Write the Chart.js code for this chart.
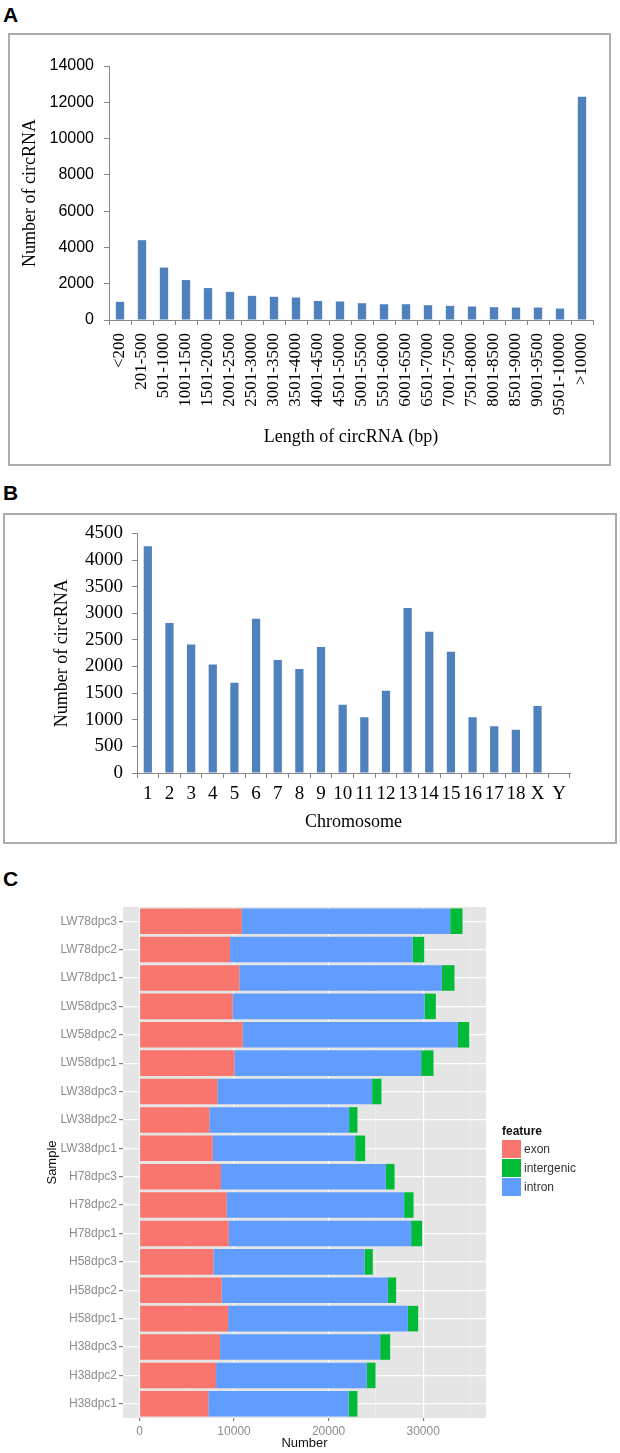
<!DOCTYPE html>
<html>
<head>
<meta charset="utf-8">
<script src="https://cdn.jsdelivr.net/npm/chart.js@4.4.0/dist/chart.umd.min.js"></script>
<style>
  body { margin: 0; background: #fff; }
  #page { position: relative; width: 620px; height: 1453px; overflow: hidden; }
  .tag { position: absolute; left: 3px; font: bold 21px/21px "Liberation Sans", Arial, sans-serif; color: #000; }
  .box { position: absolute; border: 2px solid #ababab; box-sizing: border-box; }
  canvas { position: absolute; }
  #legendC { position: absolute; left: 502px; top: 1123px; font: 12px "Liberation Sans", Arial, sans-serif; color: #333; }
  #legendC .ttl { font-weight: bold; color: #111; height: 17px; line-height: 17px; }
  #legendC .row { height: 19px; line-height: 19px; white-space: nowrap; }
  #legendC .key { display: inline-block; width: 19px; height: 18px; vertical-align: top; margin-right: 3px; }
</style>
</head>
<body>
<div id="page">
  <div class="tag" style="top:4px">A</div>
  <div class="box" style="left:8px; top:33px; width:603px; height:433px"></div>
  <canvas id="chartA" width="603" height="433" style="left:8px; top:33px"></canvas>

  <div class="tag" style="top:482px">B</div>
  <div class="box" style="left:3px; top:513px; width:614px; height:331px"></div>
  <canvas id="chartB" width="614" height="331" style="left:3px; top:513px"></canvas>

  <div class="tag" style="top:868px">C</div>
  <canvas id="chartC" width="620" height="558" style="left:0; top:895px"></canvas>
  <div id="legendC"></div>
</div>
<script>
// panel A: circRNA length distribution
const lengthBins = ['<200', '201-500', '501-1000', '1001-1500', '1501-2000', '2001-2500', '2501-3000',
  '3001-3500', '3501-4000', '4001-4500', '4501-5000', '5001-5500', '5501-6000', '6001-6500',
  '6501-7000', '7001-7500', '7501-8000', '8001-8500', '8501-9000', '9001-9500', '9501-10000', '>10000'];
const lengthCounts = [1000, 4400, 2890, 2200, 1760, 1550, 1330, 1280, 1240, 1050, 1020,
  925, 870, 870, 815, 780, 745, 705, 685, 685, 630, 12300];
const lengthTicks = [0, 2000, 4000, 6000, 8000, 10000, 12000, 14000];

// panel B: circRNA per chromosome
const chromosomes = ['1', '2', '3', '4', '5', '6', '7', '8', '9', '10', '11', '12', '13', '14',
  '15', '16', '17', '18', 'X', 'Y'];
const chromCounts = [4260, 2815, 2415, 2040, 1695, 2895, 2120, 1955, 2365, 1280, 1045, 1545,
  3100, 2655, 2275, 1045, 880, 810, 1260, 10];
const chromTicks = [0, 500, 1000, 1500, 2000, 2500, 3000, 3500, 4000, 4500];

// panel C: feature composition per sample (top row first)
const samples = ['LW78dpc3', 'LW78dpc2', 'LW78dpc1', 'LW58dpc3', 'LW58dpc2', 'LW58dpc1',
  'LW38dpc3', 'LW38dpc2', 'LW38dpc1', 'H78dpc3', 'H78dpc2', 'H78dpc1',
  'H58dpc3', 'H58dpc2', 'H58dpc1', 'H38dpc3', 'H38dpc2', 'H38dpc1'];
const exonCounts = [10820, 9580, 10560, 9860, 10920, 10030, 8230, 7390, 7750, 8620, 9220, 9440,
  7810, 8690, 9370, 8520, 8100, 7280];
const intronCounts = [22040, 19290, 21420, 20280, 22750, 19760, 16370, 14780, 15060, 17430, 18770, 19290,
  15980, 17570, 19010, 16930, 15940, 14840];
const intergenicCounts = [1300, 1240, 1330, 1200, 1200, 1300, 990, 880, 1060, 920, 990, 1160,
  880, 880, 1090, 1060, 920, 930];
const numberTicks = [0, 5000, 10000, 15000, 20000, 25000, 30000, 35000];

const BLUE = '#4f81bd';
const AXIS = '#868686';
const SERIF = '"Liberation Serif", "Times New Roman", serif';
const SANS = '"Liberation Sans", Arial, sans-serif';
const featureColors = { exon: '#f8766d', intergenic: '#00ba38', intron: '#619cff' };

const useTicks = list => scale => { scale.ticks = list.map(v => ({ value: v })); };

function excelBar(canvasId, labels, values, o) {
  return new Chart(document.getElementById(canvasId), {
    type: 'bar',
    data: { labels: labels, datasets: [{ data: values, backgroundColor: BLUE, barPercentage: 0.38, categoryPercentage: 1 }] },
    options: {
      responsive: false,
      animation: false,
      layout: { padding: o.padding },
      plugins: { legend: { display: false }, tooltip: { enabled: false } },
      scales: {
        x: {
          grid: { offset: true, drawOnChartArea: false, tickLength: 5, color: AXIS },
          border: { color: AXIS },
          ticks: {
            autoSkip: false, minRotation: o.rot, maxRotation: o.rot, padding: o.xPad,
            color: '#000', font: { family: SERIF, size: o.xFont }
          },
          title: { display: true, text: o.xTitle, color: '#000', font: { family: SERIF, size: 18 }, padding: { top: 0, bottom: o.xTitlePad } },
          afterFit: s => { s.height = o.xHeight; }
        },
        y: {
          min: 0, max: o.ticks[o.ticks.length - 1],
          afterBuildTicks: useTicks(o.ticks),
          grid: { drawOnChartArea: false, tickLength: 5, color: AXIS },
          border: { color: AXIS },
          ticks: { padding: o.yPad, color: '#000', font: { family: o.yFamily, size: o.yFont }, callback: v => String(v) },
          title: { display: true, text: 'Number of circRNA', color: '#000', font: { family: SERIF, size: 18 }, padding: { top: o.yTitlePad, bottom: 0 } },
          afterFit: s => { s.width = o.yWidth; }
        }
      }
    }
  });
}

excelBar('chartA', lengthBins, lengthCounts, {
  padding: { left: 0, top: 33, right: 18, bottom: 0 },
  rot: 90, xPad: 8, xFont: 17, xTitle: 'Length of circRNA (bp)', xTitlePad: 18, xHeight: 146,
  ticks: lengthTicks, yPad: 10, yFamily: SANS, yFont: 16, yTitlePad: 11, yWidth: 101
});

excelBar('chartB', chromosomes, chromCounts, {
  padding: { left: 0, top: 19, right: 47, bottom: 0 },
  rot: 0, xPad: 5, xFont: 19, xTitle: 'Chromosome', xTitlePad: 11, xHeight: 71,
  ticks: chromTicks, yPad: 9, yFamily: SERIF, yFont: 19, yTitlePad: 48, yWidth: 134
});

// grey ggplot-style panel behind the stacked bars
const panelBg = {
  id: 'panelBg',
  beforeDraw(chart) {
    const a = chart.chartArea;
    chart.ctx.save();
    chart.ctx.fillStyle = '#e5e5e5';
    chart.ctx.fillRect(a.left, a.top, a.right - a.left, a.bottom - a.top);
    chart.ctx.restore();
  }
};

const isMajor = v => v % 10000 === 0;

new Chart(document.getElementById('chartC'), {
  type: 'bar',
  data: {
    labels: samples,
    datasets: [
      { label: 'exon', data: exonCounts, backgroundColor: featureColors.exon },
      { label: 'intron', data: intronCounts, backgroundColor: featureColors.intron },
      { label: 'intergenic', data: intergenicCounts, backgroundColor: featureColors.intergenic }
    ]
  },
  plugins: [panelBg],
  options: {
    indexAxis: 'y',
    responsive: false,
    animation: false,
    datasets: { bar: { categoryPercentage: 0.9, barPercentage: 1 } },
    layout: { padding: { left: 0, top: 12, right: 134, bottom: 0 } },
    plugins: { legend: { display: false }, tooltip: { enabled: false } },
    scales: {
      x: {
        stacked: true,
        min: -1745, max: 36645,
        afterBuildTicks: useTicks(numberTicks),
        border: { display: false },
        grid: {
          color: c => isMajor(c.tick.value) ? '#ffffff' : '#f2f2f2',
          lineWidth: c => isMajor(c.tick.value) ? 1.2 : 0.6,
          tickColor: c => isMajor(c.tick.value) ? '#7f7f7f' : 'rgba(0,0,0,0)',
          tickLength: 3
        },
        ticks: { padding: 3, color: '#8c8c8c', font: { family: SANS, size: 12 }, callback: v => isMajor(v) ? String(v) : '' },
        title: { display: true, text: 'Number', color: '#111', font: { family: SANS, size: 13 }, padding: { top: 0, bottom: 2 } },
        afterFit: s => { s.height = 35; }
      },
      y: {
        stacked: true,
        border: { display: false },
        grid: { offset: false, color: '#ffffff', lineWidth: 1.2, tickColor: '#7f7f7f', tickLength: 4 },
        ticks: { padding: 2, color: '#8c8c8c', font: { family: SANS, size: 12 } },
        title: { display: true, text: 'Sample', color: '#111', font: { family: SANS, size: 13 }, padding: { top: 45, bottom: 0 } },
        afterFit: s => { s.width = 123; }
      }
    }
  }
});

// legend in ggplot order: exon, intergenic, intron
const legend = document.getElementById('legendC');
let html = '<div class="ttl">feature</div>';
['exon', 'intergenic', 'intron'].forEach(k => {
  html += '<div class="row"><span class="key" style="background:' + featureColors[k] + '"></span>' + k + '</div>';
});
legend.innerHTML = html;
</script>
</body>
</html>
